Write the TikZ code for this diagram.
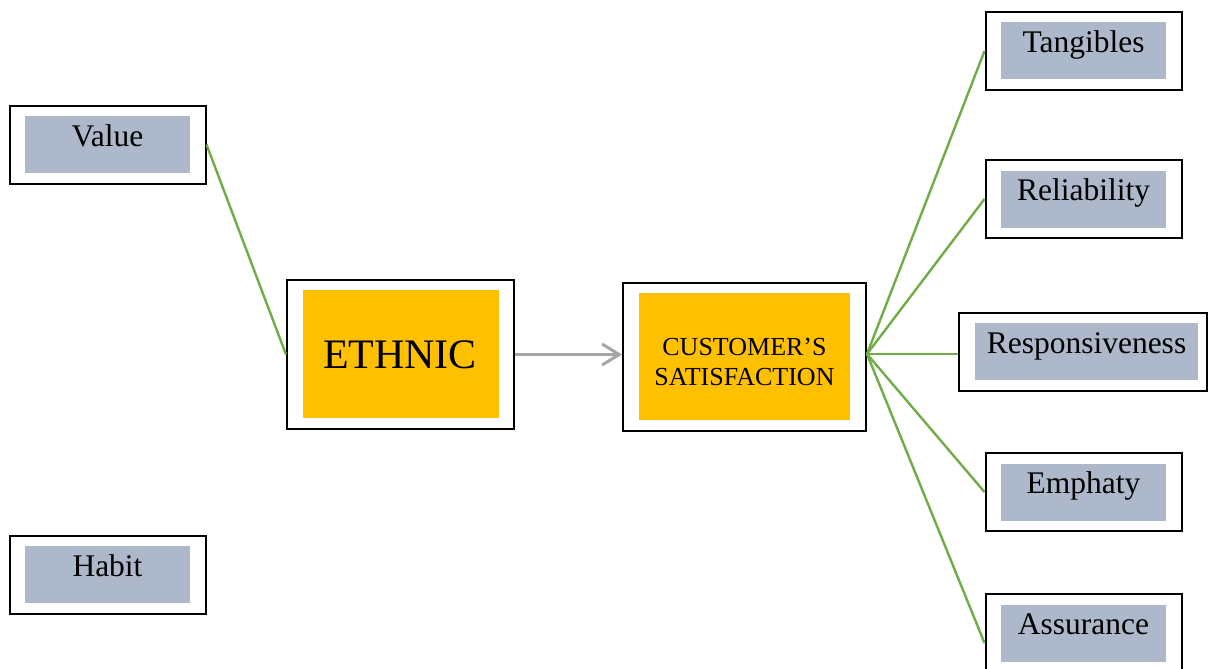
\documentclass[tikz,border=0pt]{standalone}
\usepackage{fontspec}
\setmainfont{Liberation Serif}
\usetikzlibrary{arrows.meta}

\definecolor{panelgray}{HTML}{ADB9CA}
\definecolor{gold}{HTML}{FFC000}
\definecolor{linkgreen}{HTML}{70AD47}
\definecolor{arrowgray}{HTML}{A6A6A6}

\tikzset{
  frame/.style={draw=black, line width=2pt, fill=white, inner sep=0pt},
  panel/.style={fill=panelgray, inner sep=0pt},
  corepanel/.style={fill=gold, inner sep=0pt},
  factortext/.style={font=\fontsize{31.5}{36}\selectfont, anchor=base, inner sep=0pt},
  link/.style={draw=linkgreen, line width=2.4pt},
  flow/.style={draw=arrowgray, line width=3pt,
    -{Straight Barb[length=17pt, width=21pt, line width=3pt]}}
}

% A factor: white frame, grey panel inside, label set near the panel's top
\newcommand\factorbox[4]{%
  \node[frame, minimum width=196pt, minimum height=78pt] (#1) at (#2,#3) {};
  \node[panel, minimum width=165pt, minimum height=57pt] (#1-panel) at (#2,#3) {};
  \node[factortext] (#1-text) at (#2,#3+1.5) {#4};
}

\begin{document}
\begin{tikzpicture}[x=1pt, y=-1pt]
  \useasboundingbox (0,0) rectangle (1208,669);

  % left-hand factors
  \factorbox{value}{107.5}{144.5}{Value}
  \factorbox{habit}{107.5}{574.5}{Habit}

  % right-hand dimensions
  \factorbox{tangibles}{1083.5}{51}{Tangibles}
  \factorbox{reliability}{1083.5}{199}{Reliability}
  \node[frame, minimum width=248pt, minimum height=78pt] (responsiveness) at (1083,352) {};
  \node[panel, minimum width=223pt, minimum height=57pt] (responsiveness-panel) at (1086.5,351.5) {};
  \node[factortext] (responsiveness-text) at (1086.5,353) {Responsiveness};
  \factorbox{emphaty}{1083.5}{492}{Emphaty}
  \factorbox{assurance}{1083.5}{633}{Assurance}

  % ethnic block
  \node[frame, minimum width=227pt, minimum height=149pt] (ethnic) at (400.5,354.5) {};
  \node[corepanel, minimum width=196pt, minimum height=128pt] (ethnic-panel) at (401,354) {};
  \node[anchor=base, inner sep=0pt, font=\fontsize{42}{48}\selectfont] (ethnic-text) at (400,368) {ETHNIC};

  % customer's satisfaction block
  \node[frame, minimum width=243pt, minimum height=148pt] (customer) at (744.5,357) {};
  \node[corepanel, minimum width=211pt, minimum height=127pt] (customer-panel) at (744.5,356.5) {};
  \node[anchor=base, inner sep=0pt, font=\fontsize{26}{30}\selectfont] (customer-line1) at (744.5,355) {CUSTOMER’S};
  \node[anchor=base, inner sep=0pt, font=\fontsize{26}{30}\selectfont] (customer-line2) at (744.5,385) {SATISFACTION};

  % connectors
  \coordinate (hub) at ([yshift=3pt]customer.east);
  \draw[link] (value.east) -- (ethnic.west);
  \draw[flow] (ethnic.east) -- (ethnic.east -| customer.west);
  \draw[link] (hub) -- (tangibles.west);
  \draw[link] (hub) -- (reliability.west);
  \draw[link] (hub) -- (hub -| responsiveness.west);
  \draw[link] (hub) -- (emphaty.west);
  \draw[link] (hub) -- ([yshift=-10pt]assurance.west);
\end{tikzpicture}
\end{document}
